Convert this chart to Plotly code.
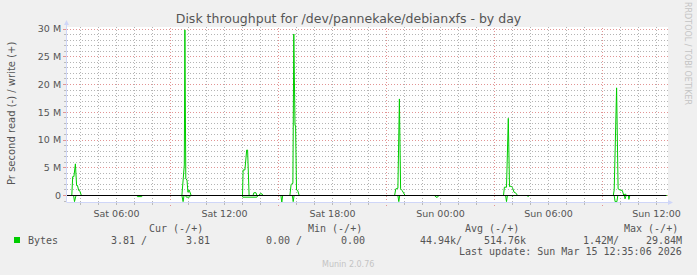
import plotly.graph_objects as go
import numpy as np
import pandas as pd

# ---------------- data (values in M bytes/s) ----------------
write_times = [
    "2026-03-14 03:20", "2026-03-14 03:31", "2026-03-14 03:34", "2026-03-14 03:38", "2026-03-14 03:43",
    "2026-03-14 03:47", "2026-03-14 03:50", "2026-03-14 03:54", "2026-03-14 03:57", "2026-03-14 04:03",
    "2026-03-14 09:38", "2026-03-14 09:40", "2026-03-14 09:43", "2026-03-14 09:46", "2026-03-14 09:48",
    "2026-03-14 09:51", "2026-03-14 09:55", "2026-03-14 09:58", "2026-03-14 10:02", "2026-03-14 10:05",
    "2026-03-14 10:09",
    "2026-03-14 13:00", "2026-03-14 13:02", "2026-03-14 13:08", "2026-03-14 13:14", "2026-03-14 13:17",
    "2026-03-14 13:22", "2026-03-14 13:35", "2026-03-14 13:38", "2026-03-14 13:45", "2026-03-14 13:48",
    "2026-03-14 13:55", "2026-03-14 13:58", "2026-03-14 14:05", "2026-03-14 14:08",
    "2026-03-14 15:38", "2026-03-14 15:42", "2026-03-14 15:48", "2026-03-14 15:51", "2026-03-14 15:55",
    "2026-03-14 15:57", "2026-03-14 16:00", "2026-03-14 16:04", "2026-03-14 16:09",
    "2026-03-14 21:27", "2026-03-14 21:31", "2026-03-14 21:38", "2026-03-14 21:43", "2026-03-14 21:47",
    "2026-03-14 21:52", "2026-03-14 22:02",
    "2026-03-15 03:30", "2026-03-15 03:33", "2026-03-15 03:40", "2026-03-15 03:46", "2026-03-15 03:50",
    "2026-03-15 03:55", "2026-03-15 04:00", "2026-03-15 04:05", "2026-03-15 04:10", "2026-03-15 04:17",
    "2026-03-15 09:36", "2026-03-15 09:39", "2026-03-15 09:47", "2026-03-15 09:52", "2026-03-15 09:58",
    "2026-03-15 10:06", "2026-03-15 10:11", "2026-03-15 10:16", "2026-03-15 10:20", "2026-03-15 12:35",
]
write_vals = [
    0, 0, 3.4, 3.4, 5.7,
    1.8, 1.8, 0.9, 0.9, 0,
    0, 2.0, 5.0, 5.5, 29.84,
    3.0, 2.8, 0.6, 1.0, 0.6,
    0,
    0, 4.6, 4.6, 8.2, 8.2,
    0, 0, 0.5, 0.5, 0,
    0, 0.3, 0.3, 0,
    0, 2.0, 2.2, 29.1, 12.6,
    12.6, 1.0, 0.9, 0,
    0, 1.2, 1.3, 17.4, 1.2,
    0.9, 0,
    0, 1.5, 1.5, 13.9, 1.6,
    1.7, 1.4, 0.6, 0.5, 0,
    0, 1.0, 19.4, 1.2, 1.0,
    0.9, 0, 0.3, 0, 0,
]

read_times = [
    "2026-03-14 03:20", "2026-03-14 03:37", "2026-03-14 03:40", "2026-03-14 03:45",
    "2026-03-14 07:07", "2026-03-14 07:10", "2026-03-14 07:24", "2026-03-14 07:27",
    "2026-03-14 09:38", "2026-03-14 09:42", "2026-03-14 09:45", "2026-03-14 09:50", "2026-03-14 09:53",
    "2026-03-14 10:03", "2026-03-14 10:07",
    "2026-03-14 12:59", "2026-03-14 13:01", "2026-03-14 13:48", "2026-03-14 13:51",
    "2026-03-14 15:08", "2026-03-14 15:11", "2026-03-14 15:14",
    "2026-03-14 15:46", "2026-03-14 15:49", "2026-03-14 15:52",
    "2026-03-14 21:38", "2026-03-14 21:41", "2026-03-14 21:44",
    "2026-03-14 23:40", "2026-03-14 23:45", "2026-03-14 23:50", "2026-03-14 23:54",
    "2026-03-15 03:37", "2026-03-15 03:40", "2026-03-15 03:43", "2026-03-15 03:57", "2026-03-15 04:00",
    "2026-03-15 04:03",
    "2026-03-15 04:49", "2026-03-15 04:52", "2026-03-15 04:55",
    "2026-03-15 09:39", "2026-03-15 09:42", "2026-03-15 09:48", "2026-03-15 09:51", "2026-03-15 10:13",
    "2026-03-15 10:15", "2026-03-15 10:19", "2026-03-15 10:26", "2026-03-15 10:28", "2026-03-15 10:31",
    "2026-03-15 12:35",
]
read_vals = [
    0, 0, -1.1, 0,
    0, -0.2, -0.2, 0,
    0, -1.1, 0, 0, -0.3,
    -0.3, 0,
    0, -0.3, -0.3, 0,
    0, -1.2, 0,
    0, -1.1, 0,
    0, -1.1, 0,
    0, -0.3, -0.3, 0,
    0, -1.1, 0, 0, -0.2,
    0,
    0, -0.2, 0,
    0, -1.1, -1.1, 0, 0,
    -0.6, 0, 0, -0.7, 0,
    0,
]

y_tickvals = [0, 5e6, 10e6, 15e6, 20e6, 25e6, 30e6]
y_ticktext = ["0", "5 M", "10 M", "15 M", "20 M", "25 M", "30 M"]
major_grid_times = ["2026-03-14 03:00", "2026-03-14 09:00", "2026-03-14 15:00",
                    "2026-03-14 21:00", "2026-03-15 03:00", "2026-03-15 09:00"]
x_range = ["2026-03-14 03:15:00", "2026-03-15 12:38:20"]
y_range = [-1.171e6, 30.36e6]

legend_series = "Bytes"
cur_vals = ("3.81 /", "3.81")
min_vals = ("0.00 /", "0.00")
avg_vals = ("44.94k/", "514.76k")
max_vals = ("1.42M/", "29.84M")
last_update = "Last update: Sun Mar 15 12:35:06 2026"
title = "Disk throughput for /dev/pannekake/debianxfs - by day"
ytitle = "Pr second read (-) / write (+)"

# minor grid positions (excluding the major grid positions)
hours = pd.date_range("2026-03-14 04:00", "2026-03-15 12:00", freq="h")
x_minor = [h.strftime("%Y-%m-%d %H:%M") for h in hours if h.hour % 6 != 3]
y_minor = [v * 1e6 for v in range(-1, 31) if v % 5 != 0]

# ---------------- layout geometry ----------------
W, H = 697, 275
L, R, T, B = 67, 29, 27, 73
PW, PH = W - L - R, H - T - B


def px(x):
    return (x - L) / PW


def py(y):
    return (H - B - y) / PH


GREEN = "#00CC00"
FONT_C = "#555555"
AXIS_C = "#CFD6F8"
MGRID = "#E29494"
GRID = "#B4B4B4"
DOTS = "1px,2px"

fig = go.Figure()
fig.add_trace(go.Scatter(x=read_times, y=np.array(read_vals) * 1e6, mode="lines",
                         line=dict(color=GREEN, width=1), hoverinfo="skip", showlegend=False))
fig.add_trace(go.Scatter(x=write_times, y=np.array(write_vals) * 1e6, mode="lines",
                         line=dict(color=GREEN, width=1), hoverinfo="skip", showlegend=False))

shapes = []
for t in major_grid_times:
    shapes.append(dict(type="line", xref="x", yref="paper", x0=t, x1=t, y0=py(206), y1=1,
                       line=dict(color=MGRID, width=1, dash=DOTS), layer="below"))
# zero line
shapes.append(dict(type="line", xref="paper", yref="y", x0=0, x1=px(666), y0=0, y1=0,
                   line=dict(color="#000000", width=1), layer="above"))
# axes with arrows
shapes.append(dict(type="line", xref="paper", yref="paper", x0=0, x1=px(669), y0=py(202.5), y1=py(202.5),
                   line=dict(color=AXIS_C, width=1), layer="above"))
shapes.append(dict(type="line", xref="paper", yref="paper", x0=px(66.5), x1=px(66.5), y0=py(202.5), y1=py(24),
                   line=dict(color=AXIS_C, width=1), layer="above"))
shapes.append(dict(type="path", xref="paper", yref="paper",
                   path=f"M {px(668)} {py(200)} L {px(673)} {py(202.5)} L {px(668)} {py(205)} Z",
                   fillcolor=AXIS_C, line=dict(width=0), layer="above"))
shapes.append(dict(type="path", xref="paper", yref="paper",
                   path=f"M {px(64)} {py(25)} L {px(66.5)} {py(20)} L {px(69)} {py(25)} Z",
                   fillcolor=AXIS_C, line=dict(width=0), layer="above"))
# legend colour box
shapes.append(dict(type="rect", xref="paper", yref="paper", x0=px(14), x1=px(20), y0=py(243), y1=py(237),
                   fillcolor=GREEN, line=dict(width=0)))

MONO = "DejaVu Sans Mono"
ann = []


def text(s, x, y, anchor="left", size=10, color=FONT_C, family=MONO, angle=0):
    ann.append(dict(text=s, xref="paper", yref="paper", x=px(x), y=py(y), xanchor=anchor,
                    yanchor="middle", showarrow=False, textangle=angle, borderpad=0,
                    font=dict(family=family, size=size, color=color)))


text("Cur (-/+)", 148, 228)
text("Min (-/+)", 307, 228)
text("Avg (-/+)", 464, 228)
text("Max (-/+)", 623, 228)
text(legend_series, 26.5, 240)
text(cur_vals[0], 148, 240, "right")
text(cur_vals[1], 211, 240, "right")
text(min_vals[0], 303, 240, "right")
text(min_vals[1], 366, 240, "right")
text(avg_vals[0], 463, 240, "right")
text(avg_vals[1], 527, 240, "right")
text(max_vals[0], 620, 240, "right")
text(max_vals[1], 683, 240, "right")
text(last_update, 683, 252, "right")
text("Munin 2.0.76", 348, 264, "center", size=8, color="#C4C4C4", family="DejaVu Sans")
text("RRDTOOL / TOBI OETIKER", 688, 53, "center", size=8, color="#C4C4C4", family="DejaVu Sans", angle=90)
text(ytitle, 11, 114, "center", size=10, color=FONT_C, family="DejaVu Sans", angle=-90)

fig.update_layout(
    width=W, height=H,
    margin=dict(l=L, r=R, t=T, b=B, pad=0),
    paper_bgcolor="#F0F0F0", plot_bgcolor="#FFFFFF",
    font=dict(family="DejaVu Sans", size=10, color=FONT_C),
    title=dict(text=title, xref="container", x=0.5, xanchor="center",
               yref="container", y=1 - 19 / H, yanchor="middle",
               font=dict(family="DejaVu Sans", size=12.5, color=FONT_C)),
    shapes=shapes, annotations=ann,
    xaxis=dict(type="date", range=x_range, tick0="2026-03-14 00:00", dtick=6 * 3600 * 1000,
               tickformat="%a %H:%M", showgrid=False, zeroline=False, showline=False,
               ticks="outside", ticklen=3, tickcolor="rgba(0,0,0,0)",
               tickfont=dict(size=9.5, color=FONT_C),
               minor=dict(tickmode="array", tickvals=x_minor, showgrid=True,
                          gridcolor=GRID, griddash=DOTS, gridwidth=1,
                          ticks="outside", ticklen=2, tickcolor="#BBBBBB")),
    yaxis=dict(range=y_range, tickmode="array", tickvals=y_tickvals, ticktext=y_ticktext,
               showgrid=True, gridcolor=MGRID, griddash=DOTS, gridwidth=1,
               zeroline=False, showline=False, ticks="outside", ticklen=3, tickcolor=MGRID,
               tickfont=dict(size=9.5, color=FONT_C),
               minor=dict(tickmode="array", tickvals=y_minor, showgrid=True, gridcolor=GRID,
                          griddash=DOTS, gridwidth=1, ticks="outside", ticklen=2,
                          tickcolor="#BBBBBB")),
)

fig.write_html("out.html")
